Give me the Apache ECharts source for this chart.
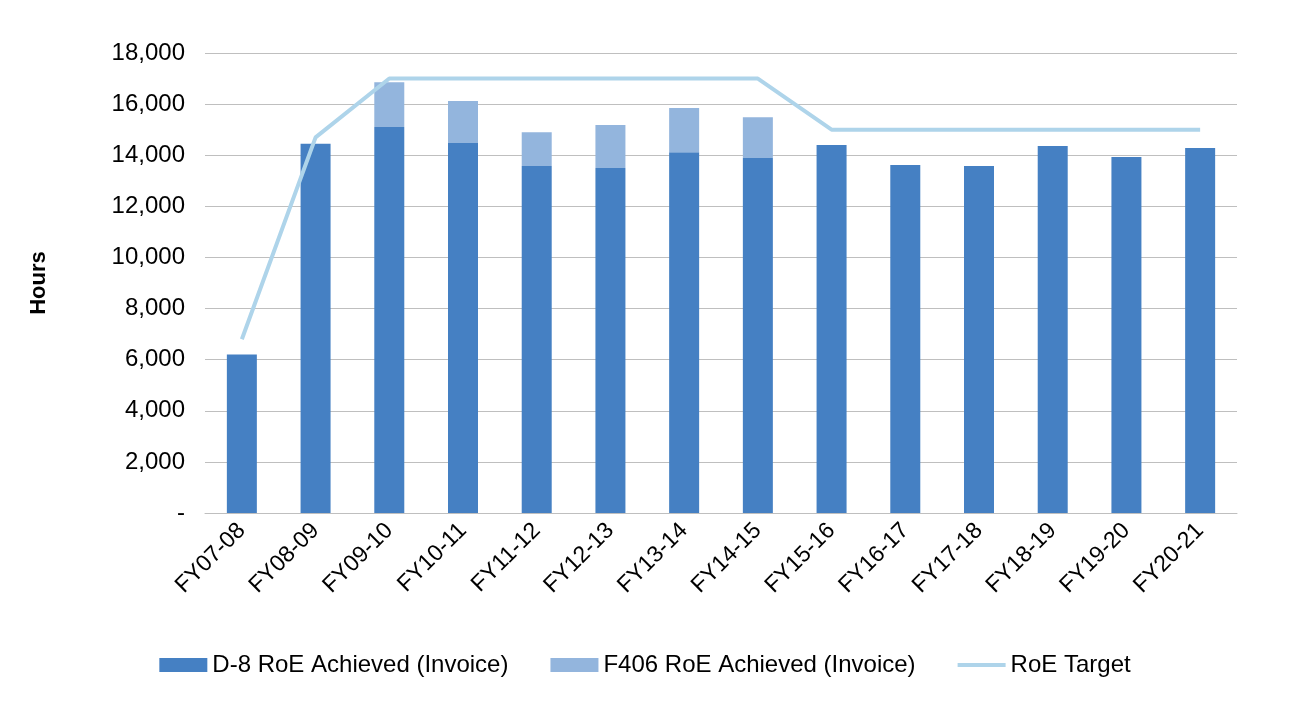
<!DOCTYPE html><html><head><meta charset="utf-8"><script src="https://cdn.jsdelivr.net/npm/echarts@6/dist/echarts.min.js"></script>
<style>body{margin:0}#c{width:1290px;height:716px}</style></head><body><div id="c"></div><script>
const categories=['FY07-08','FY08-09','FY09-10','FY10-11','FY11-12','FY12-13','FY13-14','FY14-15','FY15-16','FY16-17','FY17-18','FY18-19','FY19-20','FY20-21'];
const d8=[6200,14450,15100,14480,13580,13500,14120,13890,14400,13620,13580,14360,13930,14280];
const f406=[0,0,1760,1640,1320,1680,1730,1600,0,0,0,0,0,0];
const target=[6800,14700,17000,17000,17000,17000,17000,17000,15000,15000,15000,15000,15000,15000];
const font='Liberation Sans, Arial, sans-serif';
echarts.init(document.getElementById('c')).setOption({
animation:false,
grid:{left:205,right:53,top:53,bottom:203},
legend:{bottom:34,left:'center',itemGap:42,itemWidth:48,itemHeight:14,textStyle:{fontFamily:font,fontSize:24,color:'#000'},
 data:[{name:'D-8 RoE Achieved (Invoice)',icon:'rect'},{name:'F406 RoE Achieved (Invoice)',icon:'rect'},{name:'RoE Target',icon:'path://M0,0H48V4H0Z',itemStyle:{color:'#aed4ea'}}]},
xAxis:{type:'category',data:categories,axisLine:{lineStyle:{color:'#bfbfbf'}},axisTick:{show:false},
 axisLabel:{rotate:45,fontFamily:font,fontSize:23,color:'#000',margin:14}},
yAxis:{type:'value',min:0,max:18000,interval:2000,name:'Hours',nameLocation:'middle',nameGap:155,nameRotate:90,
 nameTextStyle:{fontFamily:font,fontSize:22,fontWeight:'bold',color:'#000'},
 axisLabel:{fontFamily:font,fontSize:24,color:'#000',margin:20,formatter:v=>v===0?'-':v.toLocaleString('en-US')},
 splitLine:{lineStyle:{color:'#bfbfbf'}}},
series:[
 {name:'D-8 RoE Achieved (Invoice)',type:'bar',stack:'a',data:d8,barWidth:30,itemStyle:{color:'#4580c3'}},
 {name:'F406 RoE Achieved (Invoice)',type:'bar',stack:'a',data:f406,itemStyle:{color:'#93b5dd'}},
 {name:'RoE Target',type:'line',data:target,symbol:'none',lineStyle:{color:'#aed4ea',width:4},itemStyle:{color:'#aed4ea'}}
]});
</script></body></html>
